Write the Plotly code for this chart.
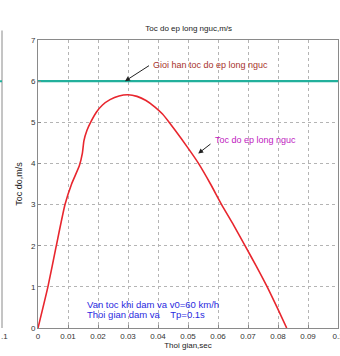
import plotly.graph_objects as go

# Chest compression speed over time during impact
t_sec = [0, 0.0033, 0.0061, 0.009, 0.0112, 0.0138, 0.0148, 0.0153, 0.0163, 0.0177,
         0.0195, 0.0215, 0.024, 0.027, 0.03, 0.033, 0.036, 0.039, 0.0415, 0.0437,
         0.0478, 0.0512, 0.0535, 0.0575, 0.0612, 0.0652, 0.069, 0.0728, 0.0764, 0.0797, 0.0829]
speed_ms = [0, 1, 2, 3, 3.5, 3.95, 4.25, 4.55, 4.8, 5.02,
            5.25, 5.42, 5.55, 5.64, 5.67, 5.63, 5.53, 5.37, 5.2, 5.0,
            4.6, 4.25, 4.0, 3.5, 3.0, 2.5, 2.0, 1.5, 1.0, 0.5, 0]

# Allowed limit for chest compression speed
limit_t = [0, 0.1]
limit_ms = [6, 6]

x_ticks = [0, 0.01, 0.02, 0.03, 0.04, 0.05, 0.06, 0.07, 0.08, 0.09, 0.1]
x_labels = ["0", "0.01", "0.02", "0.03", "0.04", "0.05", "0.06", "0.07", "0.08", "0.09", "0.1"]
y_ticks = [0, 1, 2, 3, 4, 5, 6, 7]

FONT = "Liberation Sans, Arial, sans-serif"

fig = go.Figure()
fig.add_trace(go.Scatter(x=limit_t, y=limit_ms, mode="lines",
                         line=dict(color="#22b09c", width=2.2), hoverinfo="skip"))
fig.add_trace(go.Scatter(x=t_sec, y=speed_ms, mode="lines",
                         line=dict(color="#e8262e", width=1.6, shape="spline", smoothing=0.5),
                         hoverinfo="skip"))

axis_common = dict(showline=True, linecolor="#8a8a8a", linewidth=1, mirror=True,
                   showgrid=True, gridcolor="#b4b4b4", griddash="dot", gridwidth=1,
                   ticks="inside", ticklen=3, tickcolor="#8a8a8a", zeroline=False,
                   automargin=False, ticklabeloverflow="allow",
                   tickfont=dict(family=FONT, size=8, color="#333"))

fig.update_layout(
    width=340, height=356,
    margin=dict(l=38, r=2, t=40, b=28),
    paper_bgcolor="white", plot_bgcolor="white",
    showlegend=False,
    title=dict(text="Toc do ep long nguc,m/s", x=0.555, xanchor="center", y=1 - 28 / 356,
               yanchor="middle", font=dict(family=FONT, size=8, color="#222")),
    xaxis=dict(range=[0, 0.1], tickvals=x_ticks, ticktext=x_labels,
               title=dict(text="Thoi gian,sec", standoff=2,
                          font=dict(family=FONT, size=8, color="#222")),
               **axis_common),
    yaxis=dict(range=[0, 7], tickvals=y_ticks,
               title=dict(text="Toc do,m/s", standoff=6,
                          font=dict(family=FONT, size=9, color="#222")),
               **axis_common),
)

# Labels with arrows
fig.add_annotation(x=0.029, y=6, ax=0.0375, ay=6.4, xref="x", yref="y", axref="x", ayref="y",
                   showarrow=True, arrowhead=2, arrowsize=1, arrowwidth=1, arrowcolor="#222",
                   text="")
fig.add_annotation(x=0.0375, y=6.4, xref="x", yref="y", xanchor="left", yanchor="middle",
                   showarrow=False, text="Gioi han toc do ep long nguc",
                   font=dict(family=FONT, size=9, color="#a8322c"))
fig.add_annotation(x=0.0534, y=4.24, ax=0.058, ay=4.5, xref="x", yref="y", axref="x", ayref="y",
                   showarrow=True, arrowhead=2, arrowsize=1, arrowwidth=1, arrowcolor="#222",
                   text="")
fig.add_annotation(x=0.0582, y=4.56, xref="x", yref="y", xanchor="left", yanchor="middle",
                   showarrow=False, text="Toc do ep long nguc",
                   font=dict(family=FONT, size=9, color="#c020c0"))

# Impact conditions
fig.add_annotation(x=0.0157, y=0.58, xref="x", yref="y", xanchor="left", yanchor="middle",
                   showarrow=False, text="Van toc khi dam va v0=60 km/h",
                   font=dict(family=FONT, size=9.5, color="#2a2ae0"))
fig.add_annotation(x=0.0157, y=0.34, xref="x", yref="y", xanchor="left", yanchor="middle",
                   showarrow=False, text="Thoi gian dam va    Tp=0.1s",
                   font=dict(family=FONT, size=9.5, color="#2a2ae0"))

# Edge of the neighbouring panel on the left
fig.add_shape(type="line", xref="paper", yref="paper", x0=-0.12, x1=-0.12, y0=0, y1=1.033,
              line=dict(color="#8a8a8a", width=1))
fig.add_shape(type="line", xref="paper", yref="y", x0=-0.127, x1=-0.12, y0=6, y1=6,
              line=dict(color="#22b09c", width=2))
fig.add_annotation(x=-0.113, y=0, xref="paper", yref="paper", xanchor="center", yanchor="top",
                   yshift=-2, showarrow=False, text=".1",
                   font=dict(family=FONT, size=8, color="#333"))

fig.write_html(
    "out.html",
    post_script="document.documentElement.style.overflow='hidden';"
                "document.body.style.overflow='hidden';document.body.style.margin='0';",
)
